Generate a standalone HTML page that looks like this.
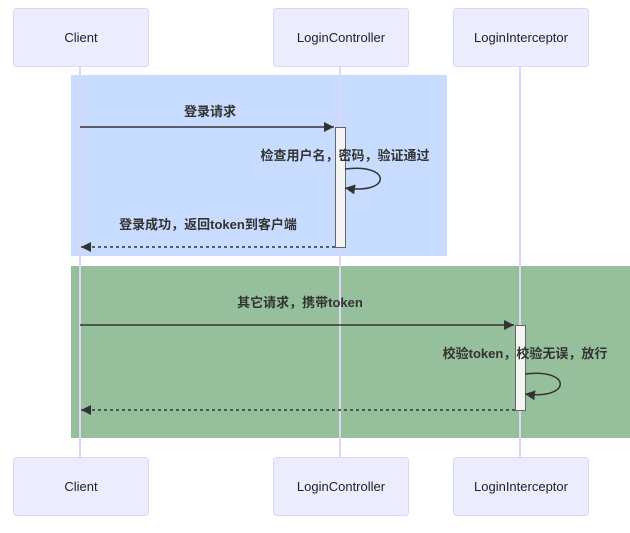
<!DOCTYPE html>
<html><head><meta charset="utf-8"><style>
body{margin:0;background:#fff}
text{font-family:"Liberation Sans","Noto Sans CJK SC",sans-serif}
</style></head><body>
<svg width="630" height="528" viewBox="0 0 630 528" xmlns="http://www.w3.org/2000/svg">
<defs>
<marker id="a" markerWidth="12" markerHeight="12" refX="10" refY="5" orient="auto" markerUnits="userSpaceOnUse"><path d="M0,0 L10,5 L0,10 z" fill="#333"/></marker>
</defs>
<rect x="71" y="75" width="376" height="181" fill="#c8dcff"/>
<rect x="71" y="266" width="559" height="172" fill="#96bf9b"/>
<g stroke="#e0d4f7" stroke-width="2">
<line x1="80" y1="66" x2="80" y2="457"/>
<line x1="340" y1="66" x2="340" y2="457"/>
<line x1="520" y1="66" x2="520" y2="457"/>
</g>
<g fill="#ececff" stroke="#e0d4f7" stroke-width="1">
<rect x="13.5" y="8.5" width="135" height="58" rx="3"/>
<rect x="273.5" y="8.5" width="135" height="58" rx="3"/>
<rect x="453.5" y="8.5" width="135" height="58" rx="3"/>
<rect x="13.5" y="457.5" width="135" height="58" rx="3"/>
<rect x="273.5" y="457.5" width="135" height="58" rx="3"/>
<rect x="453.5" y="457.5" width="135" height="58" rx="3"/>
</g>
<g font-size="13" text-anchor="middle" fill="#222">
<text x="81" y="42">Client</text>
<text x="341" y="42">LoginController</text>
<text x="521" y="42">LoginInterceptor</text>
<text x="81" y="491">Client</text>
<text x="341" y="491">LoginController</text>
<text x="521" y="491">LoginInterceptor</text>
</g>
<rect x="335.5" y="127.5" width="10" height="120" fill="#f4f4f4" stroke="#666"/>
<rect x="515.5" y="325.5" width="10" height="85" fill="#f4f4f4" stroke="#666"/>
<g stroke="#333" stroke-width="1.5" fill="none">
<line x1="80" y1="127" x2="334" y2="127" marker-end="url(#a)"/>
<path d="M345,169 C392,163 392,195 345,188" marker-end="url(#a)"/>
<line x1="335" y1="247" x2="81" y2="247" stroke-dasharray="3,3" marker-end="url(#a)"/>
<line x1="80" y1="325" x2="514" y2="325" marker-end="url(#a)"/>
<path d="M525,374 C572,368 572,400 525,394" marker-end="url(#a)"/>
<line x1="515" y1="410" x2="81" y2="410" stroke-dasharray="3,3" marker-end="url(#a)"/>
</g>
<g font-size="13" font-weight="bold" text-anchor="middle" fill="#333">
<text x="210" y="116">登录请求</text>
<text x="345" y="160">检查用户名，密码，验证通过</text>
<text x="208" y="229">登录成功，返回token到客户端</text>
<text x="300" y="307">其它请求，携带token</text>
<text x="525" y="358">校验token，校验无误，放行</text>
</g>
</svg>
</body></html>
